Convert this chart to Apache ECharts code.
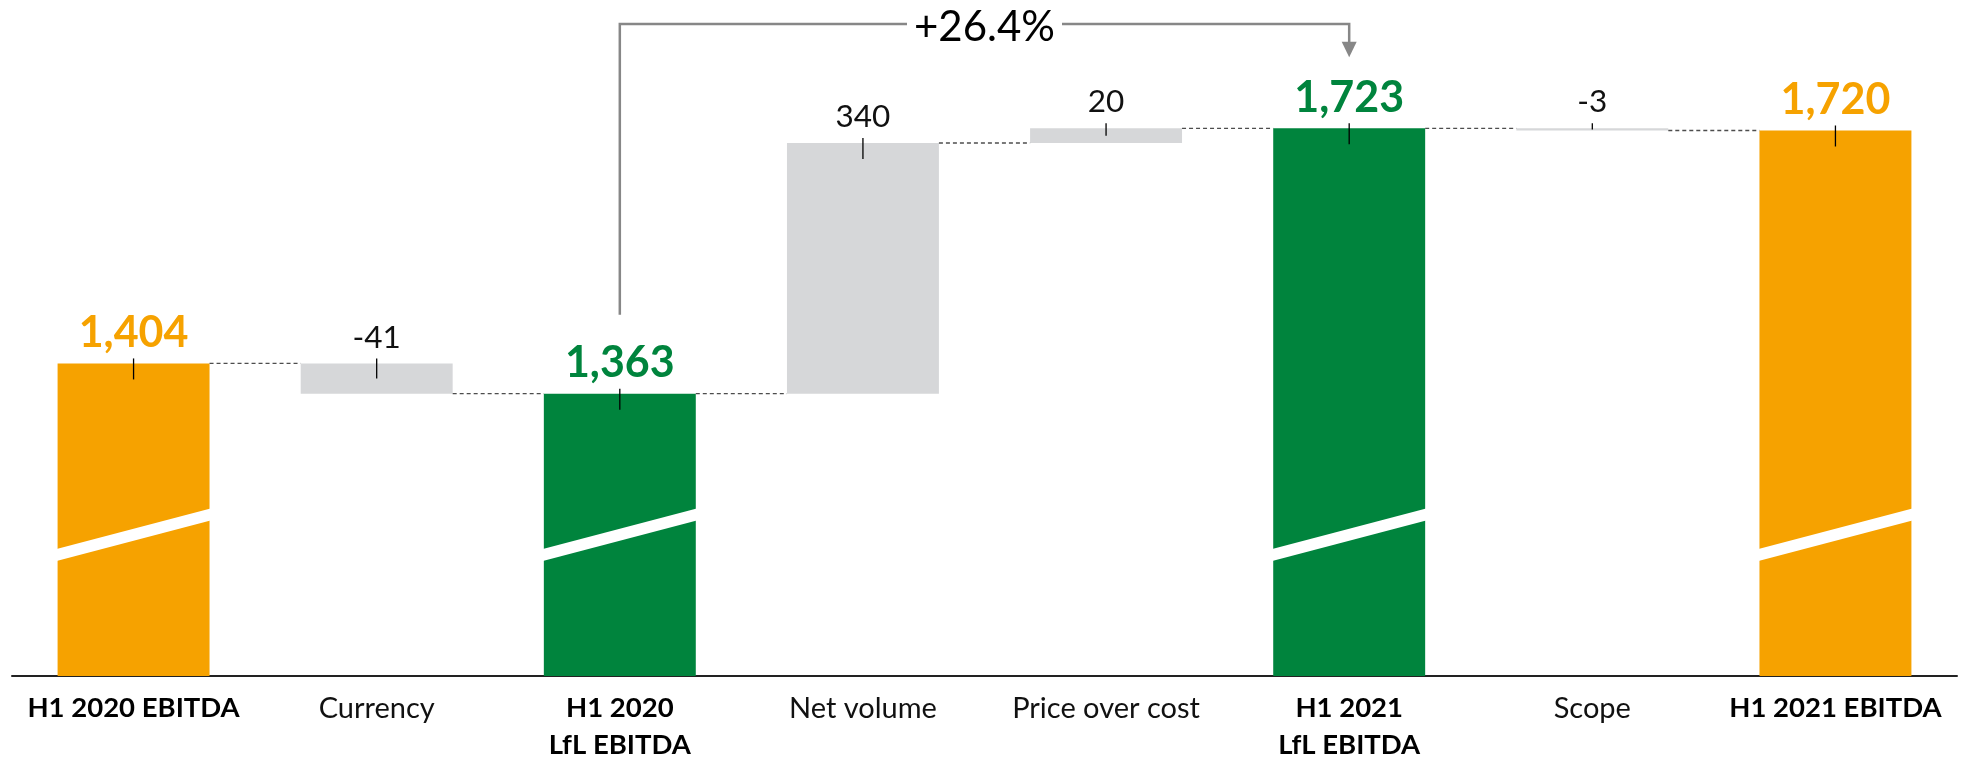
<!DOCTYPE html>
<html>
<head>
<meta charset="utf-8">
<script src="https://cdn.jsdelivr.net/npm/echarts@6/dist/echarts.min.js"></script>
<style>
html,body{margin:0;padding:0;background:#fff;}
#chart{width:1970px;height:759px;}
</style>
</head>
<body>
<div id="chart"></div>
<script>
const categories = ['H1 2020 EBITDA', 'Currency', 'H1 2020\nLfL EBITDA', 'Net volume', 'Price over cost', 'H1 2021\nLfL EBITDA', 'Scope', 'H1 2021 EBITDA'];
const values = [1404, -41, 1363, 340, 20, 1723, -3, 1720];
const barKinds = ['reported', 'step', 'lfl', 'step', 'step', 'lfl', 'step', 'reported'];
const growthFrom = 2;
const growthTo = 5;
const growthText = '+26.4%';

const yMin = 980, yMax = 1760;
const colors = {reported: '#F6A200', lfl: '#00843D', step: '#D6D7D9'};
const barRatio = 0.625;

// waterfall: low/high of every bar and the running level after it
let lows = [], highs = [], levels = [];
let run = 0;
values.forEach(function (v, i) {
  if (barKinds[i] !== 'step') {
    lows.push(0); highs.push(v); run = v;
  } else {
    lows.push(Math.min(run, run + v)); highs.push(Math.max(run, run + v)); run += v;
  }
  levels.push(run);
});

function fmt(i) {
  return barKinds[i] === 'step' ? String(values[i]) : values[i].toLocaleString('en-US');
}

function renderDeco(params, api) {
  const i = params.dataIndex;
  const cs = params.coordSys;
  const w = api.size([1, 0])[0] * barRatio;
  const top = api.coord([i, highs[i]]);
  const bot = api.coord([i, Math.max(lows[i], yMin)]);
  const children = [];
  // break mark on the tall bars
  if (barKinds[i] !== 'step') {
    const base = cs.y + cs.height;
    const l = base - 121, r = base - 161.5, h = 5.9;
    children.push({
      type: 'polygon',
      shape: {points: [[top[0] - w / 2 - 1, l - h], [top[0] + w / 2 + 1, r - h], [top[0] + w / 2 + 1, r + h], [top[0] - w / 2 - 1, l + h]]},
      style: {fill: '#fff'}
    });
  }
  children.push({
    type: 'line',
    shape: {x1: top[0], y1: top[1] - 5, x2: top[0], y2: Math.min(top[1] + 16, (top[1] + bot[1]) / 2)},
    style: {stroke: '#000', lineWidth: 1.3}
  });
  if (i < values.length - 1) {
    const y = api.coord([i, levels[i]])[1];
    const nx = api.coord([i + 1, levels[i]])[0];
    children.push({
      type: 'line',
      shape: {x1: top[0] + w / 2, y1: y, x2: nx - w / 2, y2: y},
      style: {stroke: '#4d4d4d', lineWidth: 1.3, lineDash: [4, 3]}
    });
  }
  return {type: 'group', children: children};
}

function renderGrowth(params, api) {
  const cs = params.coordSys;
  const a = api.coord([growthFrom, highs[growthFrom]]);
  const b = api.coord([growthTo, highs[growthTo]]);
  const yLine = cs.y - 77;
  const tip = b[1] - 71;
  return {
    type: 'group',
    children: [
      {type: 'polyline', shape: {points: [[a[0], a[1] - 79], [a[0], yLine], [b[0], yLine], [b[0], tip - 14]]},
        style: {stroke: '#878787', lineWidth: 2.5, fill: null}},
      {type: 'polygon', shape: {points: [[b[0] - 7.5, tip - 15.5], [b[0] + 7.5, tip - 15.5], [b[0], tip]]},
        style: {fill: '#878787'}},
      {type: 'text', x: (a[0] + b[0]) / 2, y: yLine + 3,
        style: {text: growthText, fontSize: 42, fontFamily: 'Lato', fill: '#000', align: 'center',
          verticalAlign: 'middle', backgroundColor: '#fff', padding: [0, 7]}}
    ]
  };
}

let myChart = echarts.init(document.getElementById('chart'));
let option = {
  animation: false,
  textStyle: {fontFamily: 'Lato'},
  grid: {left: 12, right: 13, top: 101, bottom: 83, containLabel: false, outerBoundsMode: 'none'},
  xAxis: {
    type: 'category',
    data: categories,
    axisTick: {show: false},
    axisLine: {lineStyle: {color: '#222', width: 2}},
    axisLabel: {
      interval: 0,
      margin: 14,
      formatter: function (val, i) {
        if (barKinds[i] === 'step') return '{r|' + val + '}';
        return val.split('\n').map(function (s) { return '{b|' + s + '}'; }).join('\n');
      },
      rich: {
        b: {fontFamily: 'Lato', fontSize: 27.5, fontWeight: 'bold', lineHeight: 37, color: '#000'},
        r: {fontFamily: 'Lato', fontSize: 29, lineHeight: 37, color: '#111'}
      }
    }
  },
  yAxis: {type: 'value', min: yMin, max: yMax, show: false, splitLine: {show: false}},
  series: [
    {
      name: 'base', type: 'bar', stack: 'wf', barWidth: '62.5%', silent: true,
      itemStyle: {color: 'transparent'},
      data: lows
    },
    {
      name: 'value', type: 'bar', stack: 'wf', barWidth: '62.5%',
      label: {show: true, position: 'top', formatter: function (p) { return fmt(p.dataIndex); }},
      data: values.map(function (v, i) {
        const step = barKinds[i] === 'step';
        return {
          value: highs[i] - lows[i],
          itemStyle: {color: colors[barKinds[i]]},
          label: step
            ? {fontSize: 31.5, color: '#111', distance: 10}
            : {fontSize: 43, fontWeight: 'bold', color: colors[barKinds[i]], distance: 9}
        };
      })
    },
    {
      name: 'deco', type: 'custom', z: 3, silent: true,
      renderItem: renderDeco,
      data: values.map(function (v, i) { return [i, highs[i]]; })
    },
    {
      name: 'growth', type: 'custom', z: 3, silent: true,
      renderItem: renderGrowth,
      data: [[growthFrom, growthTo]]
    }
  ]
};
myChart.setOption(option);
window.addEventListener('resize', function () { myChart.resize(); });
</script>
</body>
</html>
